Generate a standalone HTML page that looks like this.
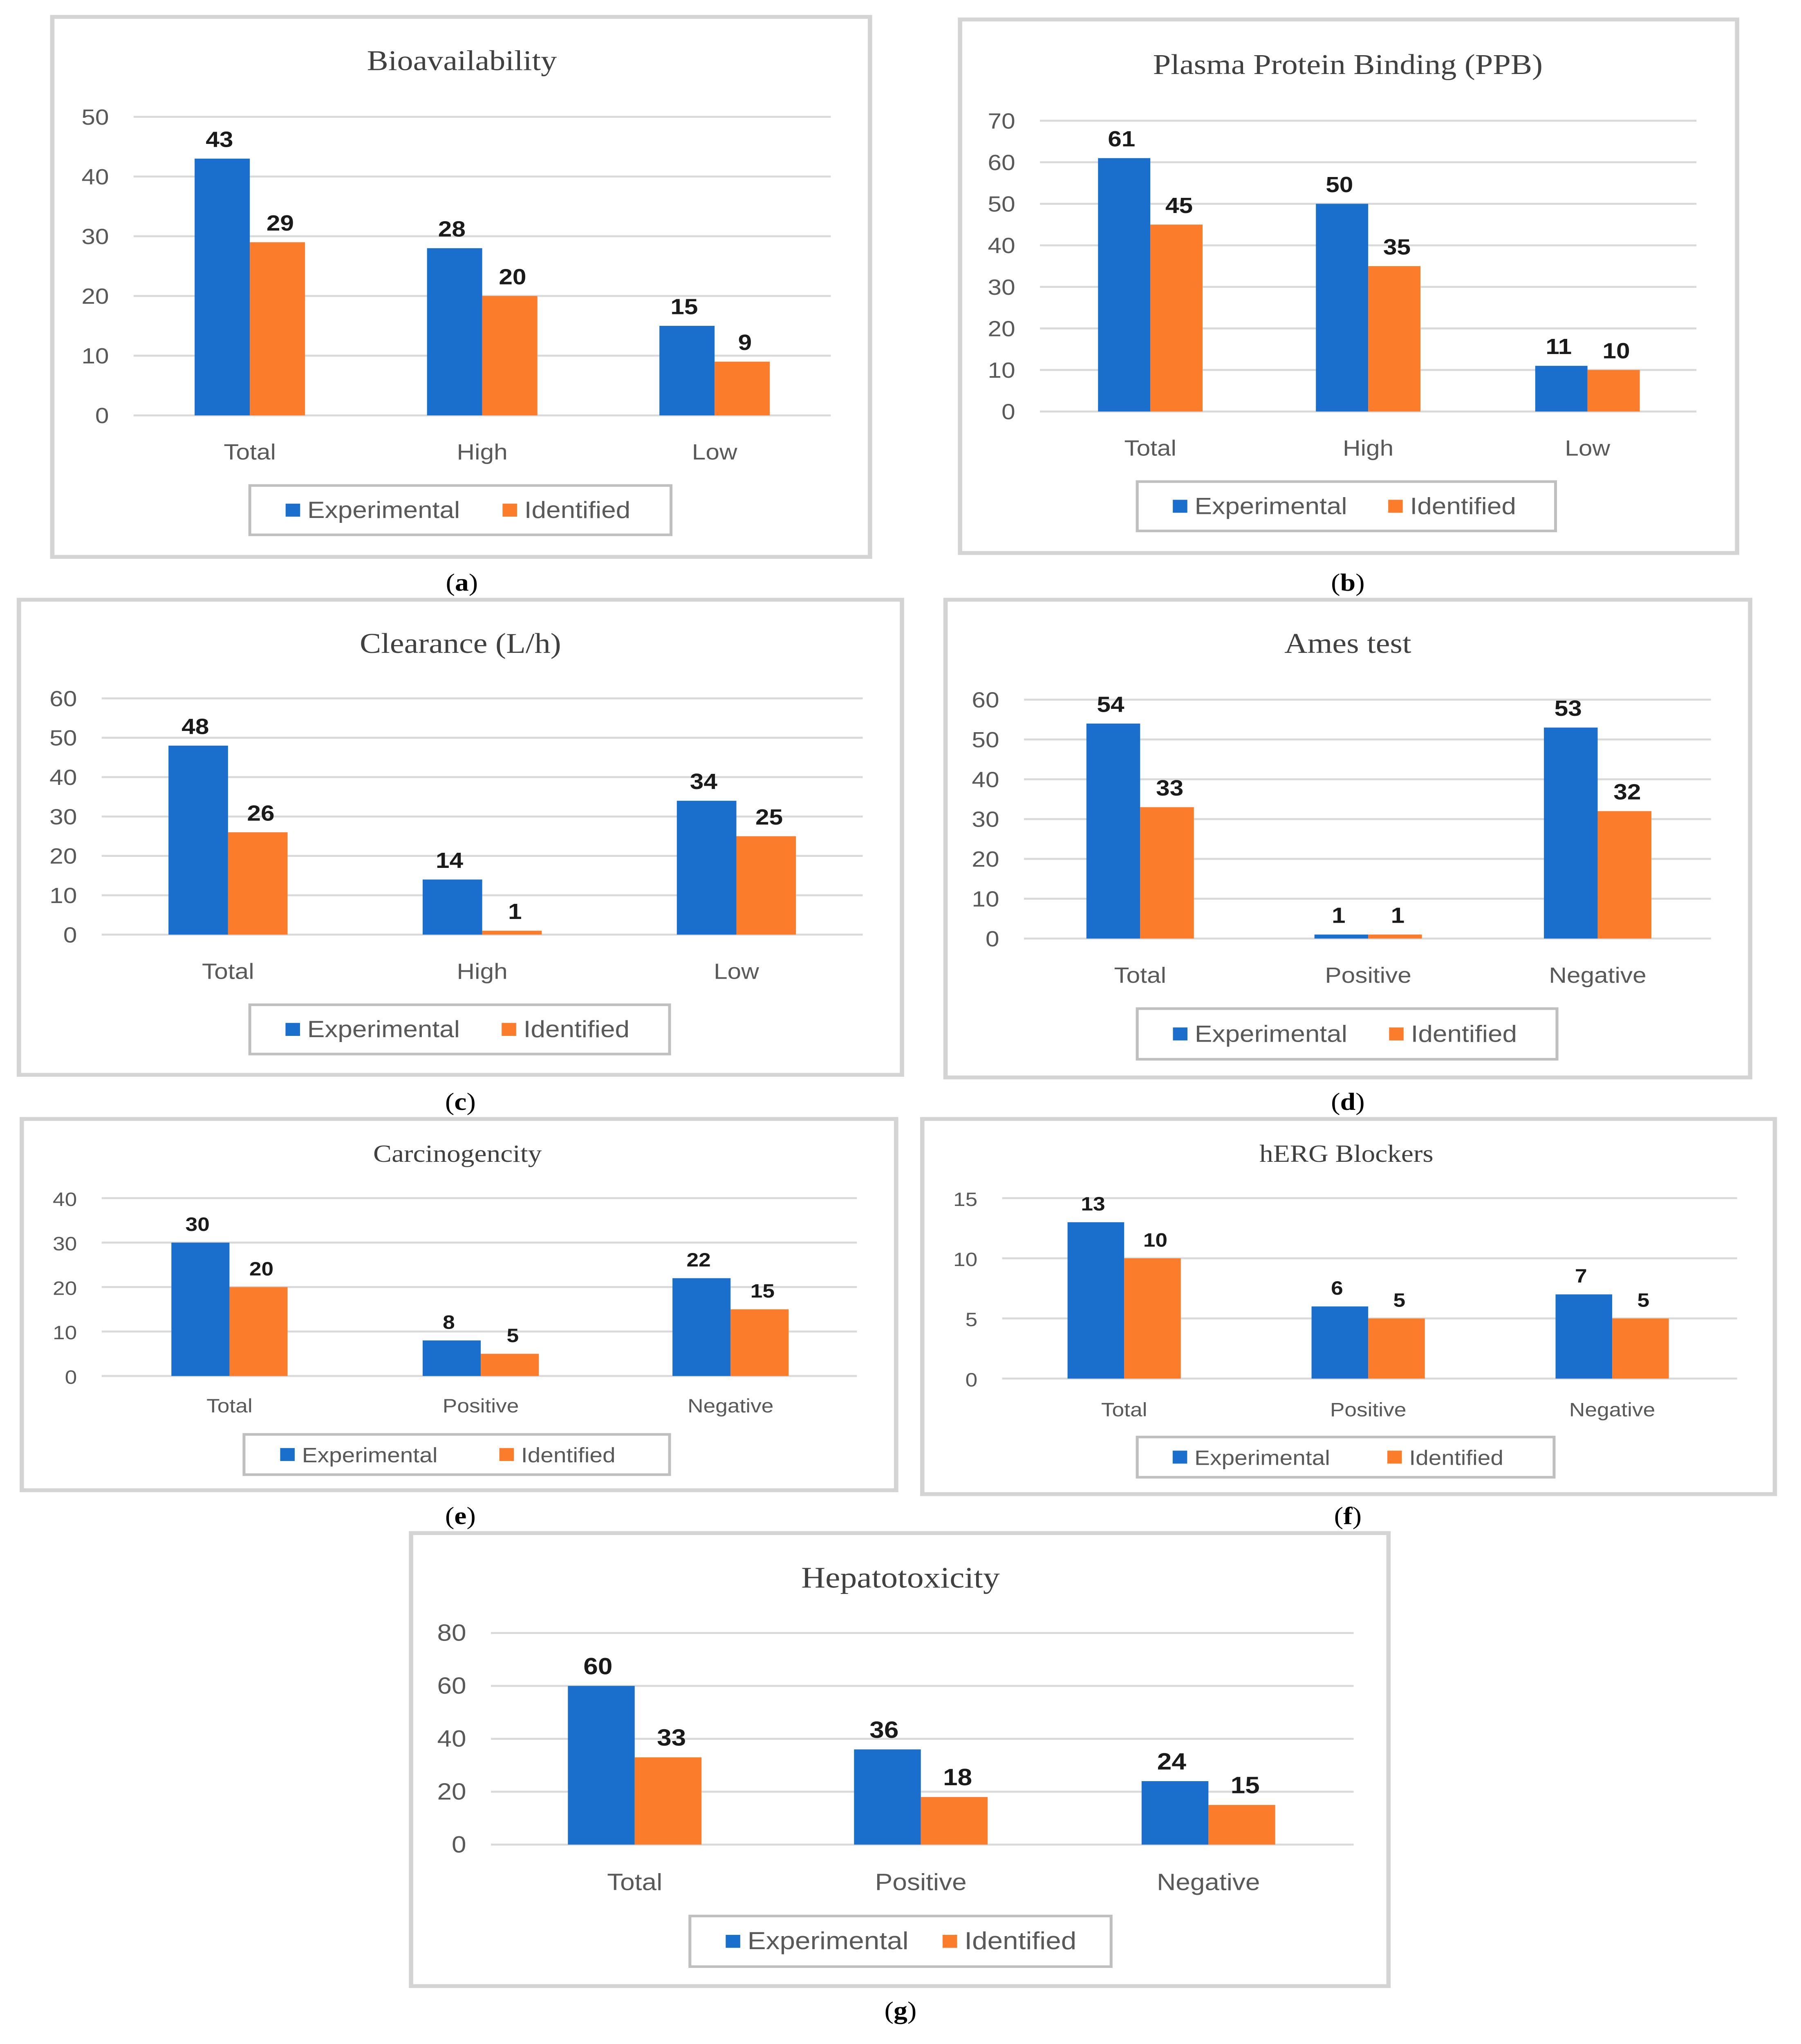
<!DOCTYPE html>
<html><head><meta charset="utf-8">
<style>
html,body{margin:0;padding:0;background:#fff;width:100%;height:100%;overflow:hidden;}
svg{display:block;width:100vw;height:100vh;position:absolute;left:0;top:0;}
</style></head>
<body>
<svg id="fig" xmlns="http://www.w3.org/2000/svg" viewBox="0 0 1240 1574.6" preserveAspectRatio="none"></svg>
<script>
// ---- data ----
const catsA = ["Total","High","Low"];
const expA = [43,28,15];
const idA = [29,20,9];
const catsB = ["Total","High","Low"];
const expB = [61,50,11];
const idB = [45,35,10];
const catsC = ["Total","High","Low"];
const expC = [48,14,34];
const idC = [26,1,25];
const catsD = ["Total","Positive","Negative"];
const expD = [54,1,53];
const idD = [33,1,32];
const catsE = ["Total","Positive","Negative"];
const expE = [30,8,22];
const idE = [20,5,15];
const catsF = ["Total","Positive","Negative"];
const expF = [13,6,7];
const idF = [10,5,5];
const catsG = ["Total","Positive","Negative"];
const expG = [60,36,24];
const idG = [33,18,15];
const ticksA = [0,10,20,30,40,50];
const ticksB = [0,10,20,30,40,50,60,70];
const ticksC = [0,10,20,30,40,50,60];
const ticksD = [0,10,20,30,40,50,60];
const ticksE = [0,10,20,30,40];
const ticksF = [0,5,10,15];
const ticksG = [0,20,40,60,80];

const NS = "http://www.w3.org/2000/svg";
const svg = document.getElementById('fig');
function mk(tag, attrs, parent, text){
  const e = document.createElementNS(NS, tag);
  for (const k in attrs) e.setAttribute(k, attrs[k]);
  if (text !== undefined) e.textContent = text;
  (parent||svg).appendChild(e);
  return e;
}
const BLUE="#1b6fcc", ORANGE="#fb7d2b";

function panel(p){
  const g = mk('g',{});
  
  
  const box = mk('rect',{x:p.bx,y:p.by,width:p.bw,height:p.bh,fill:'#fff',stroke:'#d4d4d4','stroke-width':3},g);
  
  
  const t = mk('text',{x:p.tx,y:p.ty,'text-anchor':'middle','font-family':'Liberation Serif, serif','font-size':p.tfs,fill:'#404040'},g,p.title);
  
  
  const maxT = p.ticks[p.ticks.length-1];
  const y = v => p.y0 - (p.y0 - p.yTop) * v / maxT;
  p.ticks.forEach(tv=>{
    const gl = mk('line',{x1:p.gx1,x2:p.gx2,y1:y(tv),y2:y(tv),stroke:'#d9d9d9','stroke-width':1.5},g);
    
    
    const tl = mk('text',{x:p.gx1-17,y:y(tv)+6,'text-anchor':'end','font-family':'Liberation Sans, sans-serif','font-size':p.fs,fill:'#595959'},g,String(tv));
    
    
  });
  p.cats.forEach((c,i)=>{
    const cx = p.cx[i];
    const vals=[p.exp[i],p.idv[i]], cols=[BLUE,ORANGE];
    vals.forEach((v,j)=>{
      const x = cx - p.w + j*p.w;
      const r = mk('rect',{x:x,y:y(v),width:p.w,height:p.y0-y(v),fill:cols[j]},g);
      
      
      const lx = j ? x + p.w*0.55 : x + p.w*0.45;
      const l = mk('text',{x:lx,y:y(v)-9,'text-anchor':'middle','font-family':'Liberation Sans, sans-serif','font-size':p.fs,'font-weight':'bold',fill:'#1a1a1a'},g,String(v));
      
      
    });
    const cl = mk('text',{x:cx,y:p.ly,'text-anchor':'middle','font-family':'Liberation Sans, sans-serif','font-size':p.fs,fill:'#595959'},g,c);
    
    
  });
  const lg = mk('g',{},g);
  
  
  mk('rect',{x:p.lx1,y:p.ly1,width:p.lx2-p.lx1,height:p.ly2-p.ly1,fill:'#fff',stroke:'#bfbfbf','stroke-width':2},lg);
  const my=(p.ly1+p.ly2)/2, lw=p.lx2-p.lx1;
  const s1 = mk('rect',{x:p.lx1+lw*0.085,y:my-5,width:10,height:10,fill:BLUE},lg);
  
  
  const e1 = mk('text',{x:p.lx1+lw*0.085+15,y:my+6,'font-family':'Liberation Sans, sans-serif','font-size':p.fs+1,fill:'#595959'},lg,'Experimental');
  
  
  const s2 = mk('rect',{x:p.lx1+lw*0.6,y:my-5,width:10,height:10,fill:ORANGE},lg);
  
  
  const e2 = mk('text',{x:p.lx1+lw*0.6+15,y:my+6,'font-family':'Liberation Sans, sans-serif','font-size':p.fs+1,fill:'#595959'},lg,'Identified');
  
  
  const cap = mk('text',{x:p.capx,y:p.capy,'text-anchor':'middle','font-family':'Liberation Serif, serif','font-size':19,fill:'#000'});
  
  
  mk('tspan',{},cap,'(');
  mk('tspan',{'font-weight':'bold'},cap,p.id);
  mk('tspan',{},cap,')');
}

panel({id:'a',title:'Bioavailability',cats:catsA,exp:expA,idv:idA,ticks:ticksA,bx:36,by:13,bw:563,bh:416,tx:318,ty:54,tfs:22,gx1:92,gx2:572,y0:320,yTop:90,cx:[172,332,492],w:38,ly:354,fs:17,lx1:172,lx2:462,ly1:374,ly2:412,capx:318,capy:455});
panel({id:'b',title:'Plasma Protein Binding (PPB)',cats:catsB,exp:expB,idv:idB,ticks:ticksB,bx:661,by:15,bw:535,bh:411,tx:928,ty:57,tfs:22,gx1:716,gx2:1168,y0:317,yTop:93,cx:[792,942,1093],w:36,ly:351,fs:17,lx1:783,lx2:1071,ly1:371,ly2:409,capx:928,capy:455});
panel({id:'c',title:'Clearance (L/h)',cats:catsC,exp:expC,idv:idC,ticks:ticksC,bx:13,by:462,bw:608,bh:366,tx:317,ty:503,tfs:22,gx1:70,gx2:594,y0:720,yTop:538,cx:[157,332,507],w:41,ly:754,fs:17,lx1:172,lx2:461,ly1:774,ly2:812,capx:317,capy:855});
panel({id:'d',title:'Ames test',cats:catsD,exp:expD,idv:idD,ticks:ticksD,bx:651,by:462,bw:554,bh:368,tx:928,ty:503,tfs:22,gx1:705,gx2:1178,y0:723,yTop:539,cx:[785,942,1100],w:37,ly:757,fs:17,lx1:783,lx2:1072,ly1:777,ly2:816,capx:928,capy:855});
panel({id:'e',title:'Carcinogencity',cats:catsE,exp:expE,idv:idE,ticks:ticksE,bx:15,by:862,bw:602,bh:286,tx:315,ty:895,tfs:19,gx1:70,gx2:590,y0:1060,yTop:923,cx:[158,331,503],w:40,ly:1088,fs:15,lx1:168,lx2:461,ly1:1105,ly2:1136,capx:317,capy:1174});
panel({id:'f',title:'hERG Blockers',cats:catsF,exp:expF,idv:idF,ticks:ticksF,bx:635,by:862,bw:587,bh:289,tx:927,ty:895,tfs:19,gx1:690,gx2:1196,y0:1062,yTop:923,cx:[774,942,1110],w:39,ly:1091,fs:15,lx1:783,lx2:1070,ly1:1107,ly2:1138,capx:928,capy:1174});
panel({id:'g',title:'Hepatotoxicity',cats:catsG,exp:expG,idv:idG,ticks:ticksG,bx:283,by:1181,bw:673,bh:349,tx:620,ty:1223,tfs:23,gx1:338,gx2:932,y0:1421,yTop:1258,cx:[437,634,832],w:46,ly:1456,fs:18,lx1:475,lx2:765,ly1:1476,ly2:1515,capx:620,capy:1555});
</script>
</body></html>
